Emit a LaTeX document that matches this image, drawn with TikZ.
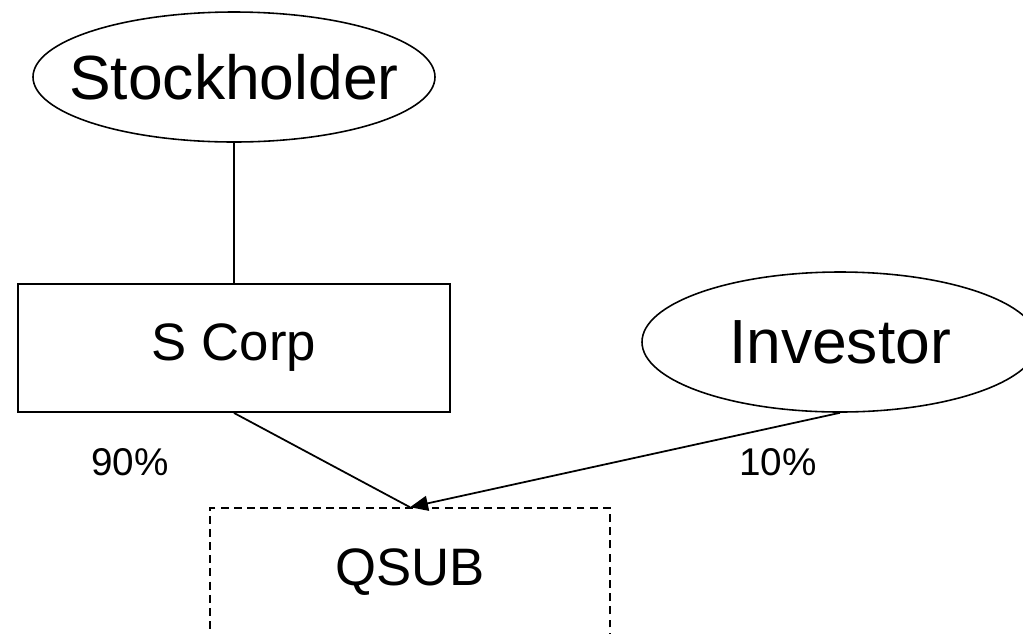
\documentclass[tikz,border=0pt]{standalone}
\usepackage{fontspec}
\setmainfont{Liberation Sans}
\usepackage{tikz}
\usetikzlibrary{arrows.meta,shapes,positioning,calc}

\begin{document}
\begin{tikzpicture}[
    party/.style={draw, ellipse, line width=0.9pt, inner sep=0pt, label={[font=\fontsize{35.5}{40}\selectfont]center:#1}},
    entity/.style={draw, rectangle, line width=1.1pt, inner sep=0pt, minimum height=2.56cm, font=\fontsize{30}{34}\selectfont},
    share/.style={font=\fontsize{22}{26}\selectfont}
]
    % Page frame
    \useasboundingbox (0,0) rectangle (20.46,-12.66);

    % Owners
    \node[party=Stockholder, minimum width=8.04cm, minimum height=2.6cm] (stockholder) at (4.68,-1.54) {};
    \node[party=Investor, minimum width=7.92cm, minimum height=2.8cm] (investor) at (16.8,-6.84) {};

    % Corporations
    \node[entity, minimum width=8.64cm] (scorp) at (4.68,-6.96) {S Corp};
    \node[entity, dashed, dash pattern=on 4.5pt off 3pt, line width=0.9pt, minimum width=8cm] (qsub) at (8.2,-11.44) {QSUB};

    % Ownership links
    \draw[line width=1.1pt] (stockholder) -- (scorp.north);
    \draw[line width=1pt] (scorp.south) -- (qsub.north);
    \draw[-{Triangle[length=0.36cm, width=0.3cm]}, line width=1pt] (investor.south) -- (qsub.north);

    % Shares
    \node[share] (pctscorp) at (2.6,-9.24) {90\%};
    \node[share] (pctinv) at (15.56,-9.24) {10\%};
\end{tikzpicture}
\end{document}
